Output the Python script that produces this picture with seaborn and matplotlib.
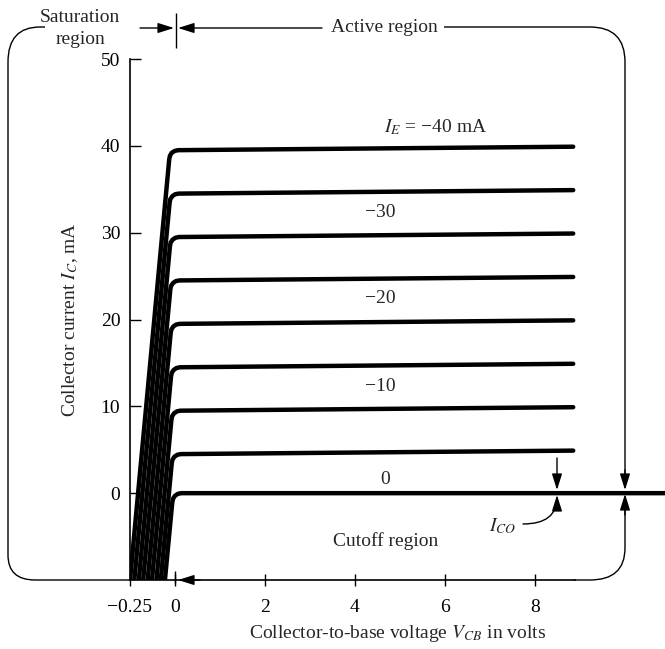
import numpy as np
import pandas as pd
import seaborn as sns
import matplotlib
matplotlib.use("Agg")
import matplotlib.pyplot as plt
import matplotlib.transforms as mtransforms
from matplotlib.path import Path
from matplotlib.patches import PathPatch

# Emitter current of each curve (mA)
ie_ma = [-40, -35, -30, -25, -20, -15, -10, -5, 0]

# Collector-to-base voltage (V) along each curve
vcb = [
    [-0.250, -0.032, -0.028, -0.018, -0.001, 0.071, 8.85],
    [-0.226, -0.030, -0.026, -0.015, 0.003, 0.080, 8.85],
    [-0.201, -0.028, -0.024, -0.013, 0.012, 0.089, 8.85],
    [-0.177, -0.026, -0.022, -0.011, 0.019, 0.096, 8.85],
    [-0.152, -0.024, -0.020, -0.009, 0.028, 0.104, 8.85],
    [-0.128, -0.022, -0.018, -0.007, 0.037, 0.113, 8.85],
    [-0.103, -0.020, -0.016, -0.005, 0.043, 0.120, 8.85],
    [-0.079, -0.018, -0.014, -0.003, 0.052, 0.129, 8.85],
    [-0.056, -0.015, -0.011, 0.000, 0.063, 0.140, 10.9],
]
# Collector current (mA) at the same points
ic = [
    [-10, 38.46, 38.86, 39.20, 39.42, 39.5, 39.9],
    [-10, 33.46, 33.86, 34.20, 34.42, 34.5, 34.9],
    [-10, 28.46, 28.86, 29.20, 29.42, 29.5, 29.9],
    [-10, 23.46, 23.86, 24.20, 24.42, 24.5, 24.9],
    [-10, 18.46, 18.86, 19.20, 19.42, 19.5, 19.9],
    [-10, 13.46, 13.86, 14.20, 14.42, 14.5, 14.9],
    [-10, 8.46, 8.86, 9.20, 9.42, 9.5, 9.9],
    [-10, 3.46, 3.86, 4.20, 4.42, 4.5, 4.9],
    [-10, -1.04, -0.64, -0.30, -0.08, 0.0, 0.0],
]

x_ticks = [-0.25, 0, 2, 4, 6, 8]
x_ticklabels = ["\u22120.25", "0", "2", "4", "6", "8"]
y_ticks = [0, 10, 20, 30, 40, 50]

rows = []
for ie, vs, cs in zip(ie_ma, vcb, ic):
    for v, c in zip(vs, cs):
        rows.append({"ie": ie, "vcb": v, "ic": c})
df = pd.DataFrame(rows)

#-----------------------------------------------------
# style
#-----------------------------------------------------
sns.set_theme(style="ticks")
plt.rcParams["font.family"] = ["Liberation Serif", "DejaVu Serif"]
plt.rcParams["mathtext.fontset"] = "stix"
plt.rcParams["axes.unicode_minus"] = True
fs = 14
ink = "black"

W, H = 665, 649
fig = plt.figure(figsize=(W / 100, H / 100), dpi=100)
ax = fig.add_axes([130 / W, (H - 580) / H, 535 / W, 521 / H])
ax.set_facecolor("white")
fig.patch.set_facecolor("white")

sns.lineplot(data=df, x="vcb", y="ic", units="ie", estimator=None, sort=False,
             color=ink, lw=3.2, ax=ax, legend=False)
for ln in ax.lines:
    ln.set_solid_joinstyle("round")

# the negative voltage part of the axis is stretched 4x
def fwd(v):
    v = np.asarray(v, dtype=float)
    return np.where(v < 0, 4 * v, v)

def inv(u):
    u = np.asarray(u, dtype=float)
    return np.where(u < 0, u / 4, u)

ax.set_xscale("function", functions=(fwd, inv))
ax.set_xlim(-0.25, 10.89)
ax.set_ylim(-10, 50)
ax.set_xticks(x_ticks)
ax.set_xticklabels(x_ticklabels)
ax.set_yticks(y_ticks)
ax.set_xlabel("Collector-to-base voltage $V_{CB}$ in volts", fontsize=fs, labelpad=5)
ax.set_ylabel("Collector current $I_C$, mA", fontsize=fs, labelpad=15)
ax.tick_params(axis="x", direction="inout", length=8, width=1, pad=10, labelsize=fs, colors=ink)
ax.tick_params(axis="y", direction="in", length=8, width=1, pad=7, labelsize=fs, colors=ink)
for side in ["top", "right"]:
    ax.spines[side].set_visible(False)
ax.spines["bottom"].set_bounds(-0.25, 8.9)
ax.spines["left"].set_bounds(-10, 50)
for side in ["bottom", "left"]:
    ax.spines[side].set_linewidth(1.2)
    ax.spines[side].set_color(ink)

# curve labels
ax.text(5.78, 42.2, "$I_E$ = \u221240 mA", fontsize=fs, ha="center", va="center")
ax.text(4.56, 32.3, "\u221230", fontsize=fs, ha="center", va="center")
ax.text(4.56, 22.4, "\u221220", fontsize=fs, ha="center", va="center")
ax.text(4.56, 12.3, "\u221210", fontsize=fs, ha="center", va="center")
ax.text(4.67, 1.6, "0", fontsize=fs, ha="center", va="center")
ax.text(4.67, -5.5, "Cutoff region", fontsize=fs, ha="center", va="center")

#-----------------------------------------------------
# region brackets, drawn in picture pixels
#-----------------------------------------------------
pxT = mtransforms.Affine2D().scale(1 / W, -1 / H).translate(0, 1) + fig.transFigure
M, L, C = Path.MOVETO, Path.LINETO, Path.CURVE3
blw = 1.0

def bracket(pts, codes):
    fig.patches.append(PathPatch(Path(pts, codes), transform=pxT, fill=False,
                                 edgecolor=ink, lw=blw))

bracket([(45, 27), (40, 27), (8, 27), (8, 62), (8, 555), (8, 580), (35, 580), (131, 580)],
        [M, L, C, C, L, C, C, L])
bracket([(444, 27), (590, 27), (625, 27), (625, 62), (625, 480)], [M, L, C, C, L])
bracket([(625, 505), (625, 548), (625, 580), (590, 580), (574, 580)], [M, L, C, C, L])
bracket([(176, 13), (176, 48)], [M, L])
bracket([(175, 571), (175, 583)], [M, L])

arrow = dict(arrowstyle="-|>,head_length=0.7,head_width=0.22", color=ink, lw=blw,
             shrinkA=0, shrinkB=0, mutation_scale=14)

def arr(tip, tail, **kw):
    props = dict(arrow)
    props.update(kw)
    ax.annotate("", xy=tip, xycoords=pxT, xytext=tail, textcoords=pxT,
                arrowprops=props, annotation_clip=False)

arr((174, 28), (140, 28))
arr((178, 28), (322, 28))
arr((178, 580), (200, 580))
arr((625, 490), (625, 470))
arr((625, 494), (625, 515))
arr((557, 490), (557, 458))
arr((557, 495), (523, 524), connectionstyle="angle3,angleA=0,angleB=90")

ax.text(80, 18, "Saturation", transform=pxT, fontsize=fs, ha="center", va="center")
ax.text(80, 40, "region", transform=pxT, fontsize=fs, ha="center", va="center")
ax.text(384, 27, "Active region", transform=pxT, fontsize=fs, ha="center", va="center")
ax.text(503, 526, "$I_{CO}$", transform=pxT, fontsize=fs, ha="center", va="center")

plt.savefig("out.png", dpi=100, facecolor="white")
plt.close()
